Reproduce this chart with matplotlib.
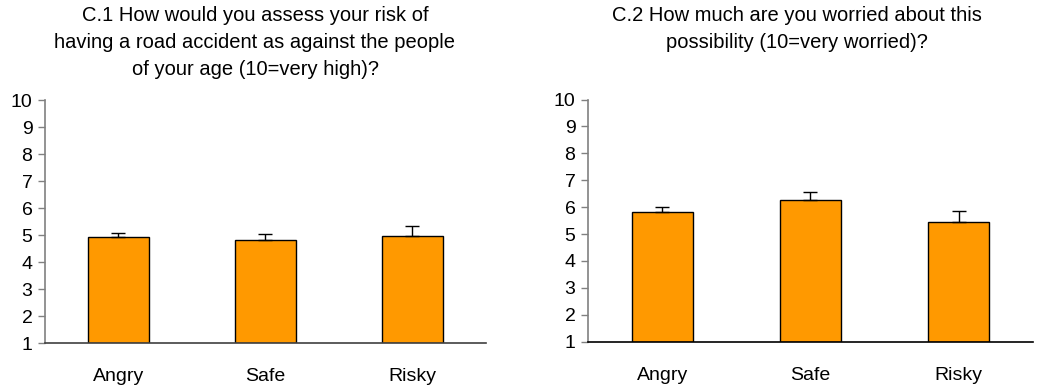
import numpy as np
import matplotlib
matplotlib.use("Agg")
import matplotlib.pyplot as plt

plt.rcParams['font.family'] = ['Liberation Sans', 'DejaVu Sans']

# ============================
# Data
# ============================
groups = ["Angry", "Safe", "Risky"]

risk_means = [4.91, 4.81, 4.96]
risk_err = [0.16, 0.21, 0.37]

worry_means = [5.82, 6.28, 5.45]
worry_err = [0.20, 0.27, 0.42]

titles = [
    "C.1 How would you assess your risk of\nhaving a road accident as against the people\nof your age (10=very high)?",
    "C.2 How much are you worried about this\npossibility (10=very worried)?",
]
yticks = list(range(1, 11))

bar_color = '#FF9900'

fig = plt.figure(figsize=(10.41, 3.9), dpi=100)
ax1 = fig.add_axes([0.0432, 0.1205, 0.4236, 0.623])
ax2 = fig.add_axes([0.5648, 0.1238, 0.4275, 0.621])


def draw_panel(ax, means, errs, bottom_col):
    x = np.arange(len(groups))
    heights = np.array(means) - 1
    ax.bar(x, heights, bottom=1, width=0.41, color=bar_color,
           edgecolor='black', linewidth=1.0, zorder=2)
    ax.errorbar(x, means, yerr=[np.zeros(len(errs)), errs], fmt='none',
                ecolor='black', elinewidth=1.0, capsize=5, capthick=1.0, zorder=3)
    ax.set_xlim(-0.5, 2.5)
    ax.set_ylim(1, 10)
    ax.set_yticks(yticks)
    ax.set_xticks(x)
    ax.set_xticklabels(groups, fontsize=14)
    ax.tick_params(axis='x', length=0, pad=18)
    ax.tick_params(axis='y', length=5, width=1, color='#808080',
                   labelsize=14, pad=4, direction='out')
    ax.spines['top'].set_visible(False)
    ax.spines['right'].set_visible(False)
    ax.spines['left'].set_color('#808080')
    ax.spines['left'].set_linewidth(1.2)
    ax.spines['bottom'].set_color(bottom_col)
    ax.spines['bottom'].set_linewidth(1.2)
    ax.spines['bottom'].set_zorder(4)


draw_panel(ax1, risk_means, risk_err, '#404040')
draw_panel(ax2, worry_means, worry_err, 'black')

# titles sit at the top of the figure, not on the axes
fig.text(255 / 1041, 1 - 6 / 390, titles[0], ha='center', va='top',
         fontsize=14.5, linespacing=1.52)
fig.text(797 / 1041, 1 - 6 / 390, titles[1], ha='center', va='top',
         fontsize=14.5, linespacing=1.52)

fig.savefig('out.png', dpi=100)
plt.close(fig)
